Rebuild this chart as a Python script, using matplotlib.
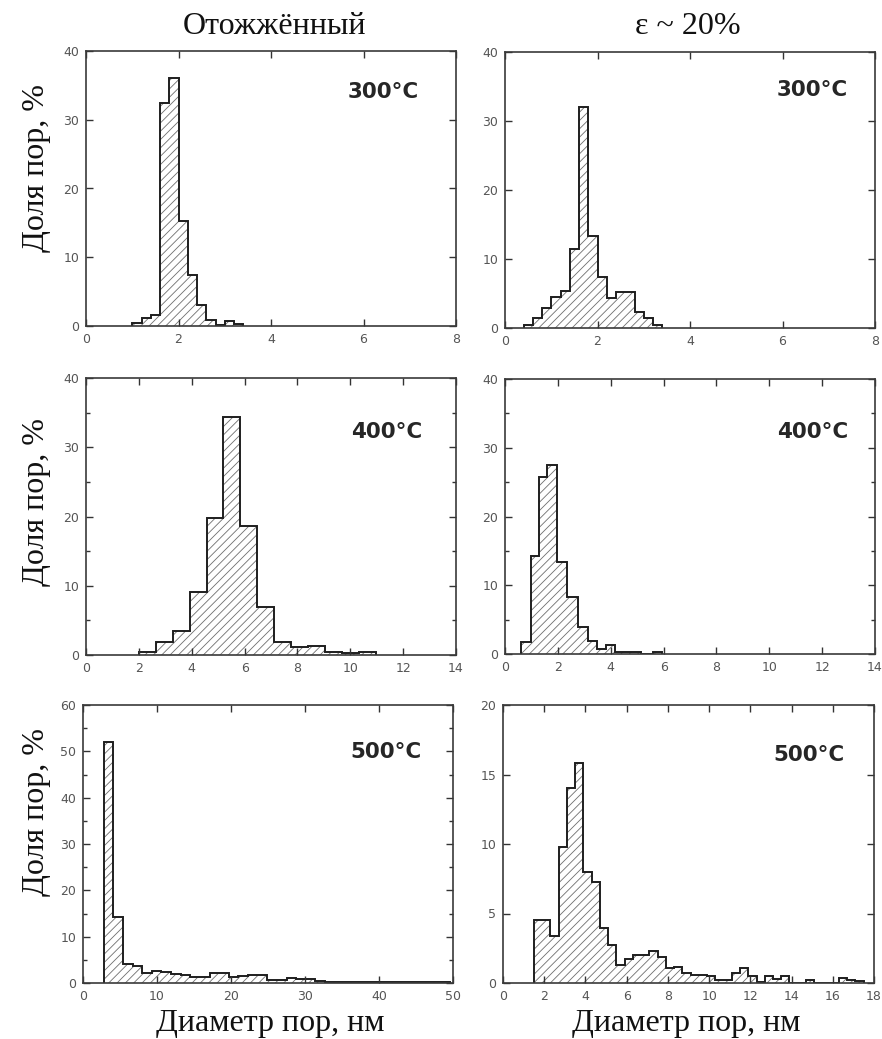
import numpy as np
import matplotlib
matplotlib.use("Agg")
import matplotlib.pyplot as plt
from matplotlib.ticker import MultipleLocator

# ---- pore-size distributions (fraction of pores, %) ----
# Annealed, 300 C
ann300_edges = [1.0, 1.2, 1.4, 1.6, 1.8, 2.0, 2.2, 2.4, 2.6, 2.8, 3.0, 3.2, 3.4]
ann300_vals = [0.4, 1.1, 1.6, 32.5, 36.0, 15.3, 7.4, 3.0, 0.9, 0.15, 0.8, 0.25]

# Deformed (eps ~ 20 %), 300 C
def300_edges = [0.4, 0.6, 0.8, 1.0, 1.2, 1.4, 1.6, 1.8, 2.0, 2.2, 2.4, 2.6, 2.8, 3.0, 3.2, 3.4]
def300_vals = [0.4, 1.4, 2.9, 4.5, 5.4, 11.4, 32.0, 13.3, 7.4, 4.4, 5.2, 5.2, 2.3, 1.4, 0.5]

# Annealed, 400 C
ann400_edges = [2.0, 2.64, 3.28, 3.92, 4.56, 5.2, 5.84, 6.48, 7.12, 7.76, 8.4, 9.04,
                9.68, 10.32, 10.96]
ann400_vals = [0.4, 1.9, 3.4, 9.1, 19.8, 34.4, 18.7, 6.9, 1.9, 1.1, 1.35, 0.5, 0.3, 0.4]

# Deformed, 400 C
def400_edges = [0.6, 0.97, 1.3, 1.6, 1.96, 2.33, 2.77, 3.15, 3.49, 3.82, 4.16, 4.5,
                4.83, 5.13, 5.59, 5.93]
def400_vals = [1.8, 14.3, 25.7, 27.5, 13.4, 8.3, 4.0, 1.9, 0.7, 1.3, 0.3, 0.3, 0.3,
               0.0, 0.25]

# Annealed, 500 C (bins of 1.3 nm starting at 2.8 nm)
ann500_start, ann500_width = 2.8, 1.3
ann500_vals = [52.0, 14.3, 4.0, 3.6, 2.2, 2.6, 2.4, 1.9, 1.8, 1.4, 1.4, 2.2, 2.2, 1.2,
               1.6, 1.8, 1.8, 0.6, 0.7, 1.0, 0.8, 0.9, 0.4, 0.3, 0.3, 0.3, 0.2, 0.3,
               0.3, 0.3, 0.3, 0.2, 0.2, 0.3, 0.3, 0.3]

# Deformed, 500 C (bins of 0.4 nm starting at 1.5 nm)
def500_start, def500_width = 1.5, 0.4
def500_vals = [4.55, 4.55, 3.35, 9.75, 14.0, 15.85, 7.95, 7.25, 3.95, 2.7, 1.3, 1.7,
               2.0, 2.05, 2.3, 1.9, 1.1, 1.15, 0.75, 0.55, 0.55, 0.5, 0.25, 0.25, 0.75,
               1.05, 0.5, 0.05, 0.5, 0.3, 0.5, 0.0, 0.0, 0.2, 0.0, 0.0, 0.0, 0.35,
               0.2, 0.15]

temp_labels = ["300°C", "300°C", "400°C", "400°C", "500°C", "500°C"]
col_titles = ["Отожжённый", "ε ~ 20%"]
y_label = "Доля пор, %"
x_label = "Диаметр пор, нм"


def regular_edges(start, width, n):
    return start + width * np.arange(n + 1)


panels = [
    (ann300_edges, ann300_vals, 8, 2, 40, 10, None),
    (def300_edges, def300_vals, 8, 2, 40, 10, None),
    (ann400_edges, ann400_vals, 14, 2, 40, 10, 5),
    (def400_edges, def400_vals, 14, 2, 40, 10, 5),
    (regular_edges(ann500_start, ann500_width, len(ann500_vals)), ann500_vals,
     50, 10, 60, 10, 5),
    (regular_edges(def500_start, def500_width, len(def500_vals)), def500_vals,
     18, 2, 20, 5, None),
]

# axes boxes in pixels: left, top, right, bottom
boxes = [
    (86, 51, 456, 326), (505, 52, 875, 328),
    (86, 378, 456, 655), (505, 379, 875, 654),
    (83, 705, 453, 983), (503, 705, 874, 983),
]
temp_pos = [(0.90, 0.85), (0.927, 0.862), (0.908, 0.805),
            (0.927, 0.807), (0.916, 0.831), (0.922, 0.82)]

plt.rcParams["hatch.linewidth"] = 0.6
plt.rcParams["hatch.color"] = "#707070"

W, H = 882, 1039
fig = plt.figure(figsize=(W / 100, H / 100), dpi=100)
fig.patch.set_facecolor("white")

serif = ["Liberation Serif", "DejaVu Serif"]

for (edges, vals, xmax, xstep, ymax, ystep, yminor), (l, t, r, b), tp, tl in zip(
        panels, boxes, temp_pos, temp_labels):
    ax = fig.add_axes([l / W, 1 - b / H, (r - l) / W, (b - t) / H])
    ax.stairs(vals, edges, fill=True, facecolor="none", edgecolor="#6e6e6e",
              hatch="////", linewidth=0)
    ax.stairs(vals, edges, baseline=0, color="#1e1e1e", linewidth=1.4)
    ax.set_xlim(0, xmax)
    ax.set_ylim(0, ymax)
    ax.xaxis.set_major_locator(MultipleLocator(xstep))
    ax.yaxis.set_major_locator(MultipleLocator(ystep))
    if yminor:
        ax.yaxis.set_minor_locator(MultipleLocator(yminor))
    ax.tick_params(which="both", direction="in", top=True, right=True,
                   width=1.0, color="#333333")
    ax.tick_params(which="major", length=5, labelsize=9, labelcolor="#555555", pad=5)
    ax.tick_params(which="minor", length=3)
    for s in ax.spines.values():
        s.set_linewidth(1.2)
        s.set_color("#3a3a3a")
    ax.text(tp[0], tp[1], tl, transform=ax.transAxes, ha="right", va="center",
            fontsize=15.5, fontweight="bold", family="DejaVu Sans", color="#262626")

# column titles
fig.text(274 / W, 1 - 27 / H, col_titles[0], ha="center", va="center",
         fontsize=23, family=serif, color="#111111")
fig.text(688 / W, 1 - 27 / H, col_titles[1], ha="center", va="center",
         fontsize=23, family=serif, color="#111111")

# row labels
for yc in (168, 502, 812):
    fig.text(37 / W, 1 - yc / H, y_label, ha="center", va="center", rotation=90,
             fontsize=23, family=serif, color="#111111")

# x labels
fig.text(270 / W, 1 - 1023 / H, x_label, ha="center", va="center",
         fontsize=23, family=serif, color="#111111")
fig.text(686 / W, 1 - 1023 / H, x_label, ha="center", va="center",
         fontsize=23, family=serif, color="#111111")

fig.savefig("out.png", dpi=100, facecolor="white")
